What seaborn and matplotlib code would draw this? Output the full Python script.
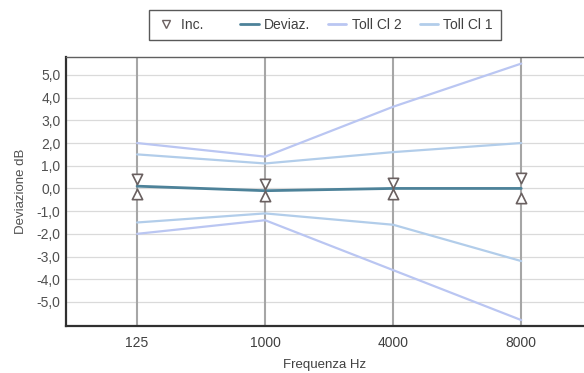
import matplotlib
matplotlib.use("Agg")
import matplotlib.pyplot as plt
import seaborn as sns
import pandas as pd
import numpy as np
from matplotlib.lines import Line2D

freqs = ["125", "1000", "4000", "8000"]
deviaz = [0.1, -0.1, 0.0, 0.0]
inc_hi = [0.42, 0.18, 0.26, 0.48]
inc_lo = [-0.26, -0.35, -0.26, -0.44]
toll1_hi = [1.5, 1.1, 1.6, 2.0]
toll1_lo = [-1.5, -1.1, -1.6, -3.2]
toll2_hi = [2.0, 1.4, 3.6, 5.5]
toll2_lo = [-2.0, -1.4, -3.6, -5.8]
yticks = [5, 4, 3, 2, 1, 0, -1, -2, -3, -4, -5]

sns.set_theme(style="white")
plt.rcParams['font.family'] = ['Liberation Sans', 'DejaVu Sans']

fig = plt.figure(figsize=(5.84, 3.73), dpi=100)
ax = fig.add_axes([66/584, 1-326/373, 1-66/584, (326-57)/373])

idx = np.arange(len(freqs))
df = pd.DataFrame({"x": idx, "dev": deviaz, "t1h": toll1_hi, "t1l": toll1_lo,
                   "t2h": toll2_hi, "t2l": toll2_lo, "ih": inc_hi, "il": inc_lo})

c_t2 = "#bac6f2"
c_t1 = "#b2cdea"
c_dev = "#4d8299"
c_mk = "#6a6060"

for yv in yticks:
    ax.axhline(yv, color="#dadada", lw=0.9, zorder=0)
for xv in idx:
    ax.axvline(xv, color="#a6a6a6", lw=1.5, zorder=1)

sns.lineplot(data=df, x="x", y="t2h", color=c_t2, lw=1.6, ax=ax, zorder=2)
sns.lineplot(data=df, x="x", y="t2l", color=c_t2, lw=1.6, ax=ax, zorder=2)
sns.lineplot(data=df, x="x", y="t1h", color=c_t1, lw=1.6, ax=ax, zorder=2)
sns.lineplot(data=df, x="x", y="t1l", color=c_t1, lw=1.6, ax=ax, zorder=2)
sns.lineplot(data=df, x="x", y="dev", color=c_dev, lw=2.0, ax=ax, zorder=3)
sns.scatterplot(data=df, x="x", y="ih", marker="v", s=55, facecolor="white",
                edgecolor=c_mk, linewidth=1.2, ax=ax, zorder=4)
sns.scatterplot(data=df, x="x", y="il", marker="^", s=55, facecolor="white",
                edgecolor=c_mk, linewidth=1.2, ax=ax, zorder=4)

ax.set_xlim(-0.555, 3.49)
ax.set_ylim(-6.06, 5.79)
ax.set_xticks(idx)
ax.set_xticklabels(freqs)
ax.set_yticks(yticks)
ax.set_yticklabels([f"{v:.1f}".replace(".", ",") for v in yticks])
ax.tick_params(axis="both", labelsize=10, colors="#505050", length=4, width=1.2)
ax.tick_params(axis="x", colors="#a6a6a6", labelcolor="#404040", pad=3)
ax.tick_params(axis="y", length=0, labelcolor="#505050", pad=4)
ax.set_xlabel("Frequenza Hz", fontsize=9.5, color="#404040", labelpad=7)
ax.set_ylabel("Deviazione dB", fontsize=9.5, color="#505050", labelpad=7)

for s in ["left", "bottom"]:
    ax.spines[s].set_color("#303030")
    ax.spines[s].set_linewidth(1.6)
ax.spines["top"].set_color("#606060")
ax.spines["top"].set_linewidth(1.0)
ax.spines["right"].set_visible(False)

handles = [
    Line2D([], [], marker="v", ls="none", markerfacecolor="white", markeredgecolor=c_mk, markersize=6),
    Line2D([], [], color=c_dev, lw=2),
    Line2D([], [], color=c_t2, lw=2),
    Line2D([], [], color=c_t1, lw=2),
]
labels = ["Inc.     ", "Deviaz.", "Toll Cl 2", "Toll Cl 1"]
leg = fig.legend(handles, labels, loc="center", bbox_to_anchor=(325/584, 1-25/373), ncol=4,
                 frameon=True, fontsize=10, handlelength=1.3, handletextpad=0.4,
                 columnspacing=1.3, borderpad=0.55, fancybox=False)
leg.get_frame().set_edgecolor("#303030")
leg.get_frame().set_linewidth(1.0)
for t in leg.get_texts():
    t.set_color("#404040")

fig.savefig("out.png", dpi=100)
